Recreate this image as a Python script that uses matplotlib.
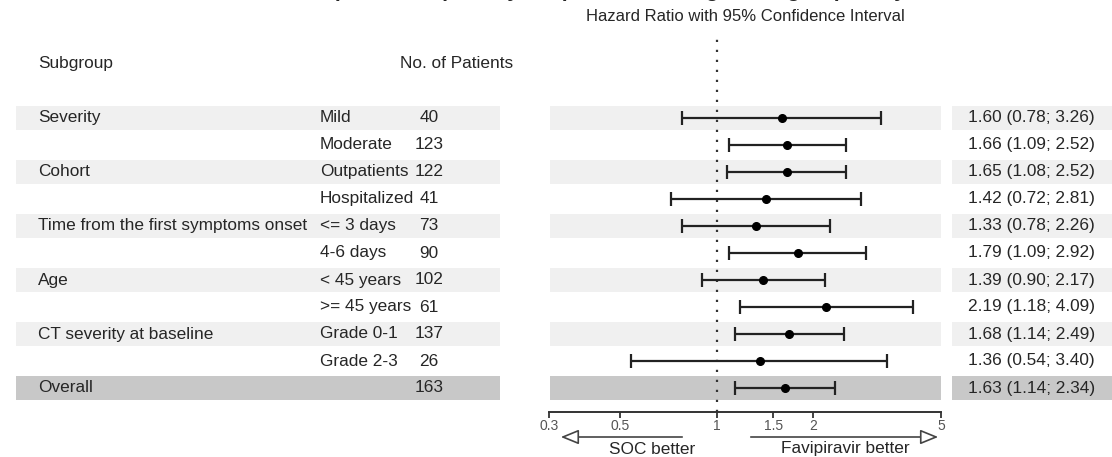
import matplotlib
matplotlib.use('Agg')
import numpy as np
import matplotlib.pyplot as plt

plt.rcParams['font.family'] = ['Liberation Sans', 'DejaVu Sans']

# subgroup table
groups = ['Severity', '', 'Cohort', '', 'Time from the first symptoms onset', '',
          'Age', '', 'CT severity at baseline', '', 'Overall']
levels = ['Mild', 'Moderate', 'Outpatients', 'Hospitalized', '<= 3 days', '4-6 days',
          '< 45 years', '>= 45 years', 'Grade 0-1', 'Grade 2-3', '']
patients = [40, 123, 122, 41, 73, 90, 102, 61, 137, 26, 163]

# hazard ratios with 95% CI
hr = [1.60, 1.66, 1.65, 1.42, 1.33, 1.79, 1.39, 2.19, 1.68, 1.36, 1.63]
ci_low = [0.78, 1.09, 1.08, 0.72, 0.78, 1.09, 0.90, 1.18, 1.14, 0.54, 1.14]
ci_high = [3.26, 2.52, 2.52, 2.81, 2.26, 2.92, 2.17, 4.09, 2.49, 3.40, 2.34]

ticks = [0.3, 0.5, 1, 1.5, 2, 5]
tick_labels = ['0.3', '0.5', '1', '1.5', '2', '5']

W, H = 1112, 457
ROW0, ROWH = 118, 27          # pixel centre of first row, row pitch
TXT = '#262626'
LIGHT = '#f0f0f0'
DARK = '#c8c8c8'
FS = 12.4


def px_to_row(p):
    return (p - ROW0) / ROWH


fig = plt.figure(figsize=(W / 100, H / 100), dpi=100)

# background axes in pixel x / row y units
bg = fig.add_axes([0, 0, 1, 1])
bg.set_xlim(0, W)
bg.set_ylim(px_to_row(H), px_to_row(0))
bg.axis('off')

n = len(hr)
for i in range(n):
    if i == n - 1:
        col = DARK
    elif i % 2 == 0:
        col = LIGHT
    else:
        continue
    for x0, x1 in [(16, 500), (550, 941), (952, W)]:
        bg.fill_between([x0, x1], i - 0.43, i + 0.43, color=col, lw=0, zorder=0)

# left table
bg.text(38, px_to_row(64), 'Subgroup', fontsize=FS, color=TXT, va='center')
bg.text(400, px_to_row(64), 'No. of Patients', fontsize=FS, color=TXT, va='center')
for i in range(n):
    bg.text(38, i, groups[i], fontsize=FS, color=TXT, va='center')
    bg.text(320, i, levels[i], fontsize=FS, color=TXT, va='center')
    bg.text(429, i, str(patients[i]), fontsize=FS, color=TXT, va='center', ha='center')
    bg.text(968, i, f'{hr[i]:.2f} ({ci_low[i]:.2f}; {ci_high[i]:.2f})',
            fontsize=FS, color=TXT, va='center')

# headers (the main title runs off the top edge)
bg.text(600, px_to_row(-2.5), 'Forest plot of the primary endpoint according to subgroup analysis',
        fontsize=15, fontweight='bold', color=TXT, ha='center', va='baseline')
bg.text(745, px_to_row(17), 'Hazard Ratio with 95% Confidence Interval',
        fontsize=12, color=TXT, ha='center', va='center')

# forest panel
ax_bot, ax_top = 412, 38
ax = fig.add_axes([549 / W, 1 - ax_bot / H, (941 - 549) / W, (ax_bot - ax_top) / H])
ax.patch.set_alpha(0)
ax.set_xscale('log')
ax.set_xlim(0.3, 5)
ax.set_ylim(px_to_row(ax_bot), px_to_row(ax_top))
ax.axvline(1, color='#333333', ls=(0, (1, 3.5)), lw=1.6)

y = np.arange(n)
err = [np.array(hr) - np.array(ci_low), np.array(ci_high) - np.array(hr)]
ax.errorbar(hr, y, xerr=err, fmt='o', color='black', ms=5.5, elinewidth=1.6,
            capsize=5, capthick=1.6, ecolor='#222222')

for s in ['top', 'left', 'right']:
    ax.spines[s].set_visible(False)
ax.spines['bottom'].set_color('#333333')
ax.spines['bottom'].set_linewidth(1.4)
ax.set_yticks([])
ax.set_xticks(ticks)
ax.set_xticklabels(tick_labels)
ax.xaxis.set_minor_locator(matplotlib.ticker.NullLocator())
ax.tick_params(axis='x', direction='out', length=4, width=1.3, colors='#333333',
               labelsize=10, labelcolor='#555555', pad=1)

# direction arrows
arrow_y = px_to_row(437)
arr = dict(arrowstyle='-|>,head_length=1.1,head_width=0.45', fc='white', ec='#444444', lw=1.2)
bg.annotate('', xy=(558, arrow_y), xytext=(685, arrow_y), arrowprops=arr)
bg.annotate('', xy=(941, arrow_y), xytext=(748, arrow_y), arrowprops=arr)
bg.text(652, px_to_row(449), 'SOC better', fontsize=FS, color=TXT, ha='center', va='center')
bg.text(845, px_to_row(449), 'Favipiravir better', fontsize=FS, color=TXT, ha='center', va='center')

fig.savefig('out.png', dpi=100)
